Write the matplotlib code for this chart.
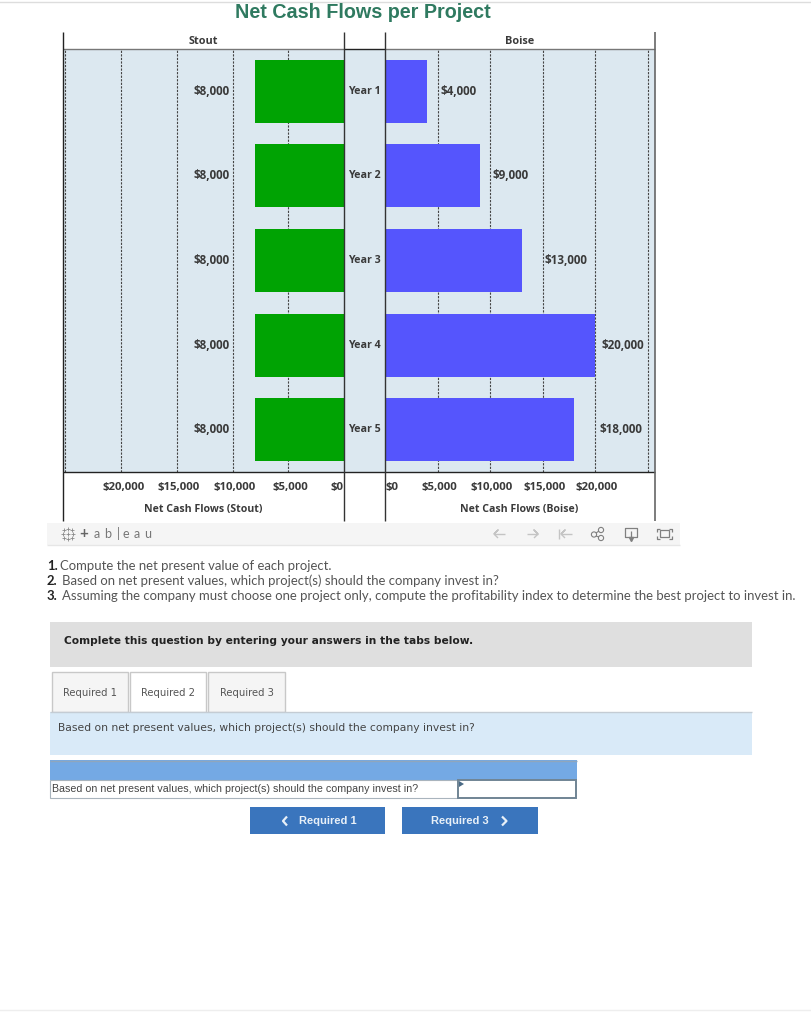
import matplotlib
matplotlib.use('Agg')
import matplotlib.pyplot as plt
from matplotlib.patches import Rectangle, Circle, Polygon
from matplotlib.transforms import ScaledTranslation

W, H = 811, 1024

years = ['Year 1', 'Year 2', 'Year 3', 'Year 4', 'Year 5']
stout = [8000, 8000, 8000, 8000, 8000]
boise = [4000, 9000, 13000, 20000, 18000]
ticks = [0, 5000, 10000, 15000, 20000]
grid_ticks = [5000, 10000, 15000, 20000, 25000]
tick_labels = ['$0', '$5,000', '$10,000', '$15,000', '$20,000']

# label gaps from the bar end, the source places them unevenly
stout_pad = [25, 25, 25, 25, 25]
boise_pad = [13, 13, 23, 6, 25]

BAND = '#dce8f0'
GREEN = '#00a303'
BLUE = '#5555fd'
TXT = '#3a3a3a'
CF = ['Open Sans', 'DejaVu Sans']


def ax_px(x0, y0, x1, y1):
    return [x0 / W, 1 - y1 / H, (x1 - x0) / W, (y1 - y0) / H]


def money(v):
    return '${:,}'.format(v)


def draw_side(ax, vals, color, pads, sign):
    ax.set_facecolor(BAND)
    ax.barh(range(5), vals, height=0.745, color=color, zorder=3)
    for g in grid_ticks:
        ax.axvline(g, color='#444444', lw=0.8, ls=(0, (2, 1.2)), zorder=1)
    ax.set_ylim(4.5, -0.5)
    ax.set_yticks([])
    ax.set_xticks(ticks)
    ax.set_xticklabels(tick_labels, family=CF, fontsize=8.2, fontweight='bold', color=TXT)
    ax.tick_params(axis='x', length=0, pad=7)
    for s in ax.spines.values():
        s.set_visible(False)
    for i, v in enumerate(vals):
        ax.annotate(money(v), (v, i), xytext=(sign * pads[i] * 0.72, 0), textcoords='offset points',
                    ha='right' if sign < 0 else 'left', va='center',
                    family=CF, fontsize=8.4, fontweight='bold', color=TXT, zorder=4)


fig = plt.figure(figsize=(W / 100, H / 100), dpi=100, facecolor='white')

left = fig.add_axes(ax_px(63, 49, 344, 472))
draw_side(left, stout, GREEN, stout_pad, -1)
left.set_xlim(25224, 0)
right = fig.add_axes(ax_px(385, 49, 655, 472))
draw_side(right, boise, BLUE, boise_pad, 1)
right.set_xlim(0, 25714)

# tick labels sit a little right of their gridlines, the $0 ones hug the panel edge
shift = ScaledTranslation(2 / 100, 0, fig.dpi_scale_trans)
for ax in (left, right):
    for lab in ax.get_xticklabels()[1:]:
        lab.set_transform(lab.get_transform() + shift)
left.get_xticklabels()[0].set_ha('right')
right.get_xticklabels()[0].set_ha('left')

# overlay in pixel coordinates for the page around the chart
ov = fig.add_axes([0, 0, 1, 1], facecolor='none')
ov.set_xlim(0, W)
ov.set_ylim(H, 0)
ov.axis('off')


def box(x0, y0, x1, y1, fc, ec='none', lw=0, z=1):
    ov.add_patch(Rectangle((x0, y0), x1 - x0, y1 - y0, fc=fc, ec=ec, lw=lw, zorder=z))


def line(xs, ys, c='#333333', lw=1, z=3):
    ov.plot(xs, ys, color=c, lw=lw, zorder=z, solid_capstyle='butt')


ov.plot([0, W], [2, 2], color='#dddddd', lw=1)
ov.plot([0, W], [1010, 1010], color='#eeeeee', lw=1)
ov.text(363, 12, 'Net Cash Flows per Project', ha='center', va='center', family='Liberation Sans',
        fontsize=14.25, fontweight='bold', color='#2f7a60')

# center panel with the year labels
box(344, 49, 385, 472, BAND)
row_y = [91.5, 176, 260.5, 345, 430]
for y, name in zip(row_y, years):
    ov.text(364.5, y, name, ha='center', va='center', family=CF, fontsize=7.7,
            fontweight='bold', color=TXT)

line([63, 344], [49, 49], '#777777', 1)
line([385, 655], [49, 49], '#777777', 1)
line([344, 385], [49, 49], '#222222', 1)
line([63, 655], [472, 472], '#222222', 1)
line([63, 63], [32, 521], '#222222', 1)
line([344, 344], [32, 521], '#333333', 1)
line([385, 385], [32, 521], '#333333', 1)
line([655, 655], [32, 521], '#666666', 1.2)

ov.text(203, 41.5, 'Stout', ha='center', va='center', family=CF, fontsize=7.8, fontweight='bold', color=TXT)
ov.text(519.5, 41.5, 'Boise', ha='center', va='center', family=CF, fontsize=7.8, fontweight='bold', color=TXT)
ov.text(203, 509.5, 'Net Cash Flows (Stout)', ha='center', va='center', family=CF, fontsize=7.55,
        fontweight='bold', color=TXT)
ov.text(519.5, 509.5, 'Net Cash Flows (Boise)', ha='center', va='center', family=CF, fontsize=7.55,
        fontweight='bold', color=TXT)

# tableau toolbar
box(47, 523, 680, 545, '#f5f5f5')
line([47, 680], [545, 545], '#e6e6e6', 1)
for dx, dy in [(0, -5), (0, 5), (-5, 0), (5, 0), (-4, -4), (4, -4), (-4, 4), (4, 4), (0, 0)]:
    ov.plot([68 + dx], [534 + dy], marker='+', ms=3, mew=0.6, color='#8a8a8a')
ov.text(84, 534, '+', ha='center', va='center', family='Lato', fontsize=11, fontweight='bold', color='#666666')
for x, ch in zip([97, 108, 118, 126, 137, 148], ['a', 'b', '|', 'e', 'a', 'u']):
    ov.text(x, 534, ch, ha='center', va='center', family='Lato', fontsize=9, color='#777777')
ICON = '#c4c4c4'
line([494, 505], [534, 534], ICON)
line([494, 498, 494, 498], [534, 530, 534, 538], ICON)
line([527, 538], [534, 534], ICON)
line([538, 534, 538, 534], [534, 530, 534, 538], ICON)
line([559, 559], [529, 539], ICON)
line([561, 572], [534, 534], ICON)
line([561, 565, 561, 565], [534, 530, 534, 538], ICON)
SH = '#808080'
for c in [(594, 534.5), (601, 530), (601, 538)]:
    ov.add_patch(Circle(c, 2.6, fc='none', ec=SH, lw=0.8, zorder=3))
line([596, 599], [533, 531], SH, 0.8)
line([596, 599], [536, 537], SH, 0.8)
line([629, 625, 625, 637, 637, 633], [537, 537, 528, 528, 537, 537], SH, 0.9)
line([631, 631], [531, 539], SH, 0.9)
ov.plot([631], [539], marker='v', ms=3, color=SH)
line([657, 657, 660], [532, 529, 529], SH, 0.9)
line([669, 672, 672], [529, 529, 532], SH, 0.9)
line([657, 657, 660], [536, 539, 539], SH, 0.9)
line([669, 672, 672], [539, 539, 536], SH, 0.9)
box(660, 530, 669, 537, 'none', SH, 0.9, 3)

# questions
BODY = '#555555'
q_text = ['Compute the net present value of each project.',
          'Based on net present values, which project(s) should the company invest in?',
          'Assuming the company must choose one project only, compute the profitability index to determine the best project to invest in.']
for i, (x, y, t) in enumerate(zip([60, 62, 62], [566.5, 581, 596], q_text)):
    ov.text(47, y, '%d.' % (i + 1), ha='left', va='center', family='Lato', fontsize=9.45,
            fontweight='bold', color='#222222')
    ov.text(x, y, t, ha='left', va='center', family='Lato', fontsize=9.45, color=BODY)

# answer panel
box(50, 622, 752, 667, '#dfdfdf')
ov.text(64.5, 641, 'Complete this question by entering your answers in the tabs below.', ha='left', va='center',
        family='DejaVu Sans', fontsize=7.63, fontweight='bold', color='#222222')
tabs = [(52, 128, '#f5f5f5', 'Required 1'), (130, 206, 'white', 'Required 2'), (208, 285, '#f5f5f5', 'Required 3')]
for x0, x1, fc, t in tabs:
    box(x0, 672, x1, 712, fc, '#c8c8c8', 1)
    ov.text((x0 + x1) / 2, 692.5, t, ha='center', va='center', family='DejaVu Sans', fontsize=7.2, color='#555555')
box(50, 712, 752, 755, '#d9eaf8')
line([50, 752], [712, 712], '#c4ccd4', 1)
ov.text(58, 728, 'Based on net present values, which project(s) should the company invest in?', ha='left',
        va='center', family='DejaVu Sans', fontsize=7.77, color='#444444')

box(50, 760, 577, 780, '#74a9e4')
box(50, 780, 458, 798, 'white', '#a9b4bd', 0.8)
box(458, 780, 576, 798, 'white', '#708494', 1.4)
line([50, 577], [760.5, 760.5], '#8fa6bd', 1)
ov.text(52, 789.5, 'Based on net present values, which project(s) should the company invest in?', ha='left',
        va='center', family='Liberation Sans', fontsize=7.68, color='#444444')
ov.add_patch(Polygon([(459, 781), (464, 784), (459, 787)], fc='#4a6a85', ec='none', zorder=4))

for x0, x1 in [(250, 385), (402, 538)]:
    box(x0, 807, x1, 834, '#3a75bd')
ov.text(327.5, 821, 'Required 1', ha='center', va='center', family='Liberation Sans', fontsize=8.05,
        fontweight='bold', color='#e8f0f8')
ov.text(460, 821, 'Required 3', ha='center', va='center', family='Liberation Sans', fontsize=8.05,
        fontweight='bold', color='#e8f0f8')
line([287, 283, 287], [816.5, 821, 825.5], '#e8f0f8', 1.6, 4)
line([502, 506.5, 502], [816.5, 821, 825.5], '#e8f0f8', 1.6, 4)

fig.savefig('out.png', dpi=100)
